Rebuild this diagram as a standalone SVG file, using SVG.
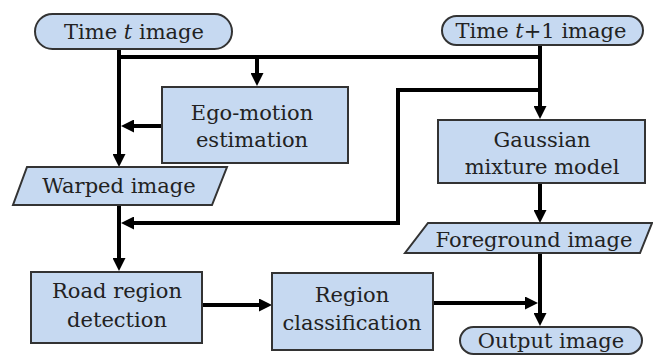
<svg xmlns="http://www.w3.org/2000/svg" width="653" height="356" viewBox="0 0 653 356">
<style>
.n{fill:#c6d9f1;stroke:#333;stroke-width:2}
.t{font-size:21px;fill:#222;text-anchor:middle}
.c{fill:none;stroke:#000;stroke-width:4}
</style>
<defs>
<marker id="ah" markerUnits="userSpaceOnUse" markerWidth="13" markerHeight="13" refX="4" refY="6.5" orient="auto">
<path d="M0,0 L13,6.5 L0,13 z" fill="#000"/>
</marker>
</defs>
<rect width="653" height="356" fill="#fff"/>
<g id="connectors">
<path class="c" d="M119,50 V158" marker-end="url(#ah)"/>
<path class="c" d="M117,57 H542"/>
<path class="c" d="M257,57 V77" marker-end="url(#ah)"/>
<path class="c" d="M162,126 H130" marker-end="url(#ah)"/>
<path class="c" d="M540,44 V110" marker-end="url(#ah)"/>
<path class="c" d="M540,90 H398 V223 H130" marker-end="url(#ah)"/>
<path class="c" d="M119,205 V262" marker-end="url(#ah)"/>
<path class="c" d="M202,305 H263" marker-end="url(#ah)"/>
<path class="c" d="M540,183 V214" marker-end="url(#ah)"/>
<path class="c" d="M540,253 V317" marker-end="url(#ah)"/>
<path class="c" d="M433,303 H529" marker-end="url(#ah)"/>
</g>
<g font-family="DejaVu Serif, Liberation Serif, serif">
<g id="time-t">
<rect class="n" x="35" y="14" width="197" height="35" rx="17.5"/>
<text class="t" font-family="DejaVu Serif" x="134" y="39">Time <tspan font-style="italic">t</tspan> image</text>
</g>
<g id="time-t1">
<rect class="n" x="442" y="16" width="201" height="29" rx="14.5"/>
<text class="t" font-family="DejaVu Serif" x="541" y="38">Time <tspan font-style="italic">t</tspan>+1 image</text>
</g>
<g id="ego">
<rect class="n" x="162" y="87" width="186" height="76"/>
<text class="t" font-family="DejaVu Serif" x="252" y="120">Ego-motion</text>
<text class="t" font-family="DejaVu Serif" x="252" y="147">estimation</text>
</g>
<g id="gmm">
<rect class="n" x="438" y="120" width="207" height="63"/>
<text class="t" font-family="DejaVu Serif" x="542" y="147">Gaussian</text>
<text class="t" font-family="DejaVu Serif" x="542" y="174">mixture model</text>
</g>
<g id="warped">
<polygon class="n" points="27,167 227,167 212,205 13,205"/>
<text class="t" font-family="DejaVu Serif" x="119" y="193">Warped image</text>
</g>
<g id="foreground">
<polygon class="n" points="428,223 652,223 640,253 405,253"/>
<text class="t" font-family="DejaVu Serif" x="534" y="247">Foreground image</text>
</g>
<g id="road">
<rect class="n" x="31" y="272" width="171" height="71"/>
<text class="t" font-family="DejaVu Serif" x="117" y="298">Road region</text>
<text class="t" font-family="DejaVu Serif" x="117" y="327">detection</text>
</g>
<g id="region">
<rect class="n" x="272" y="273" width="161" height="77"/>
<text class="t" font-family="DejaVu Serif" x="352" y="302">Region</text>
<text class="t" font-family="DejaVu Serif" x="352" y="330">classification</text>
</g>
<g id="output">
<rect class="n" x="460" y="327" width="182" height="27" rx="13.5"/>
<text class="t" font-family="DejaVu Serif" x="551" y="348">Output image</text>
</g>
</g>
</svg>
